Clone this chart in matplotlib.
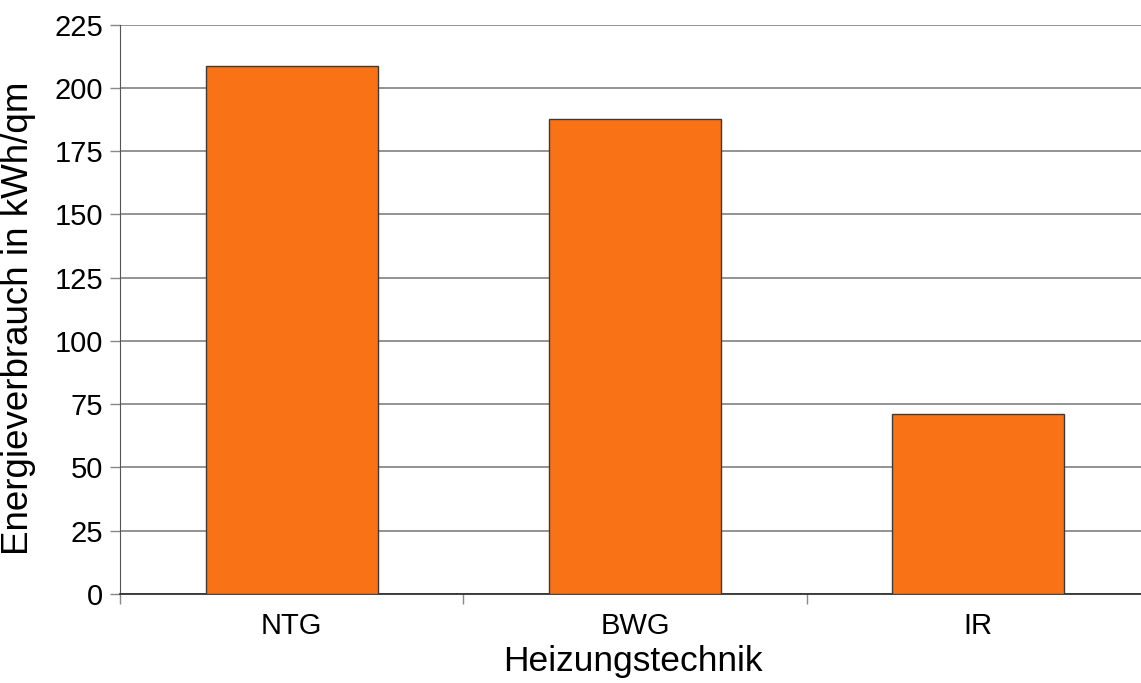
import matplotlib
matplotlib.use("Agg")
import matplotlib.pyplot as plt

categories = ["NTG", "BWG", "IR"]
values = [208.6, 187.7, 71.1]
yticks = [0, 25, 50, 75, 100, 125, 150, 175, 200, 225]

plt.rcParams['font.family'] = ['Liberation Sans', 'DejaVu Sans']

W, H = 1141, 683
fig = plt.figure(figsize=(W / 100, H / 100), dpi=100)
left, right, bottom, top = 120, 1150, 594, 24.7
ax = fig.add_axes([left / W, (H - bottom) / H, (right - left) / W, (bottom - top) / H])

x = list(range(len(categories)))
ax.bar(x, values, width=0.5, color="#F97316", edgecolor="#3a3a3a", linewidth=1.0, zorder=3)

ax.set_xlim(-0.5, len(categories) - 0.5)
ax.set_ylim(0, 225)
ax.set_yticks(yticks)
ax.set_yticklabels([str(v) for v in yticks], fontsize=21)
ax.yaxis.grid(True, color="#8a8a8a", linewidth=1.3, zorder=0)
ax.set_axisbelow(True)

ax.set_xticks(x)
ax.set_xticklabels(categories, fontsize=21)
ax.tick_params(axis='x', which='major', length=0, pad=13)
ax.set_xticks([i + 0.5 for i in range(-1, len(categories))], minor=True)
ax.tick_params(axis='x', which='minor', length=7, width=1, color="#888888", direction='out')
ax.tick_params(axis='y', length=7, width=1, color="#888888", pad=5)

for s in ['top', 'right']:
    ax.spines[s].set_visible(False)
ax.spines['left'].set_color("#555555")
ax.spines['bottom'].set_color("#333333")
ax.spines['bottom'].set_linewidth(1.3)

ax.set_ylabel("Energieverbrauch in kWh/qm", fontsize=26.5)
ax.set_xlabel("Heizungstechnik", fontsize=25.5)
ax.xaxis.label.set_verticalalignment('center')
ax.xaxis.set_label_coords((633 - left) / (right - left), -(661 - bottom) / (bottom - top))
ax.yaxis.set_label_coords(-(120 - 36) / (right - left), (bottom - 318) / (bottom - top))

fig.savefig("out.png", dpi=100, facecolor="white")
